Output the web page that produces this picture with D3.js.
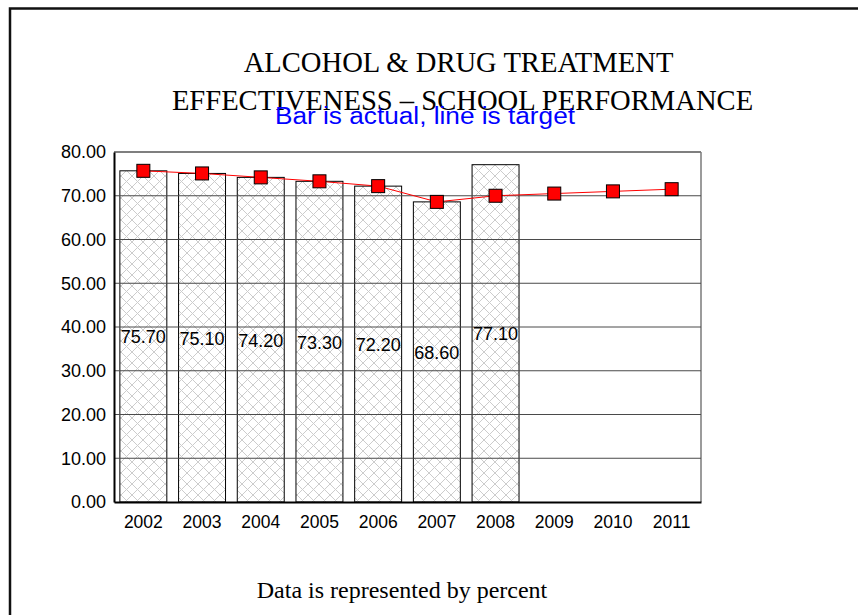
<!DOCTYPE html>
<html>
<head>
<meta charset="utf-8">
<script src="https://cdn.jsdelivr.net/npm/d3@7"></script>
<style>
  html, body { margin: 0; padding: 0; background: #fff; }
  svg { display: block; }
</style>
</head>
<body>
<svg id="chart" width="858" height="615"></svg>
<script>
// School performance: actual rate (bars) against target (line), by year
const years = ["2002", "2003", "2004", "2005", "2006", "2007", "2008", "2009", "2010", "2011"];
const actual = [75.70, 75.10, 74.20, 73.30, 72.20, 68.60, 77.10];
const target = [75.70, 75.10, 74.20, 73.30, 72.20, 68.60, 70.00, 70.50, 71.00, 71.50];
const yTicks = [0, 10, 20, 30, 40, 50, 60, 70, 80];

const svg = d3.select("#chart");
const sans = "'Liberation Sans', Arial, sans-serif";
const serif = "'Liberation Serif', 'Times New Roman', serif";

// hatched fill for the bars
const defs = svg.append("defs");
const pat = defs.append("pattern")
  .attr("id", "xhatch")
  .attr("patternUnits", "userSpaceOnUse")
  .attr("width", 11).attr("height", 11);
pat.append("rect").attr("width", 11).attr("height", 11).attr("fill", "#fff");
pat.append("path").attr("d", "M0,0 L11,11 M11,0 L0,11")
  .attr("stroke", "#cccccc").attr("stroke-width", 1);

// slide frame
svg.append("path")
  .attr("d", "M10,615 L10,8.5 L858,8.5")
  .attr("fill", "none").attr("stroke", "#111").attr("stroke-width", 2.5);

// titles
svg.append("text").attr("x", 458.5).attr("y", 72)
  .attr("text-anchor", "middle")
  .attr("font-family", serif)
  .attr("font-size", 28.6).attr("fill", "#000")
  .text("ALCOHOL & DRUG TREATMENT");
svg.append("text").attr("x", 462.5).attr("y", 110)
  .attr("text-anchor", "middle")
  .attr("font-family", serif)
  .attr("font-size", 28.6).attr("fill", "#000")
  .text("EFFECTIVENESS – SCHOOL PERFORMANCE");
svg.append("text").attr("x", 425).attr("y", 124)
  .attr("text-anchor", "middle")
  .attr("font-family", sans)
  .attr("font-size", 23.5).attr("fill", "#0000ff")
  .attr("textLength", 300).attr("lengthAdjust", "spacingAndGlyphs")
  .text("Bar is actual, line is target");
svg.append("text").attr("x", 402).attr("y", 598)
  .attr("text-anchor", "middle")
  .attr("font-family", serif)
  .attr("font-size", 24).attr("fill", "#000")
  .text("Data is represented by percent");

// plot area
const plotL = 114, plotR = 701, plotT = 152, plotB = 502;
const x = d3.scaleBand().domain(years).range([plotL, plotR]).paddingInner(0.2).paddingOuter(0.1);
const xc = d3.scaleBand().domain(years).range([plotL, plotR]);
const y = d3.scaleLinear().domain([0, 80]).range([plotB, plotT]);

// plot frame (top and right)
svg.append("path")
  .attr("d", `M${plotL},${plotT} L${plotR},${plotT}`)
  .attr("stroke", "#000").attr("stroke-width", 1.2).attr("fill", "none");
svg.append("line")
  .attr("x1", plotR).attr("x2", plotR).attr("y1", plotT).attr("y2", plotB)
  .attr("stroke", "#7a7a7a").attr("stroke-width", 1.5);

// bars
svg.append("g").selectAll("rect")
  .data(actual)
  .join("rect")
  .attr("x", (d, i) => x(years[i]))
  .attr("y", d => y(d))
  .attr("width", x.bandwidth())
  .attr("height", d => y(0) - y(d))
  .attr("fill", "url(#xhatch)")
  .attr("stroke", "#000").attr("stroke-width", 1);

// gridlines over bars
svg.append("g").selectAll("line")
  .data(yTicks.filter(t => t > 0 && t < 80))
  .join("line")
  .attr("x1", plotL).attr("x2", plotR)
  .attr("y1", d => y(d)).attr("y2", d => y(d))
  .attr("stroke", "#4a4a4a").attr("stroke-width", 1);

// value labels at bar middles
svg.append("g").selectAll("text")
  .data(actual)
  .join("text")
  .attr("x", (d, i) => x(years[i]) + x.bandwidth() / 2)
  .attr("y", d => (y(d) + y(0)) / 2 + 7)
  .attr("text-anchor", "middle")
  .attr("font-family", sans)
  .attr("font-size", 18).attr("fill", "#000")
  .text(d => d.toFixed(2));

// axes
const yAxis = d3.axisLeft(y).tickValues(yTicks).tickSize(0).tickPadding(8).tickFormat(d => d.toFixed(2));
const gy = svg.append("g").attr("transform", `translate(${plotL},0)`).call(yAxis);
gy.select(".domain").attr("stroke", "#000").attr("stroke-width", 2);
gy.selectAll("text")
  .attr("font-family", sans)
  .attr("font-size", 18).attr("fill", "#000");

const xAxis = d3.axisBottom(xc).tickSize(0).tickPadding(14);
const gx = svg.append("g").attr("transform", `translate(0,${plotB})`).call(xAxis);
gx.select(".domain").attr("stroke", "#000").attr("stroke-width", 2);
gx.selectAll("text")
  .attr("font-family", sans)
  .attr("font-size", 17.5).attr("fill", "#000");

// target line with square markers
const line = d3.line()
  .x((d, i) => xc(years[i]) + xc.bandwidth() / 2)
  .y(d => y(d));
svg.append("path")
  .datum(target)
  .attr("d", line)
  .attr("fill", "none").attr("stroke", "#ff0000").attr("stroke-width", 1);
const ms = 13;
svg.append("g").selectAll("rect")
  .data(target)
  .join("rect")
  .attr("x", (d, i) => xc(years[i]) + xc.bandwidth() / 2 - ms / 2)
  .attr("y", d => y(d) - ms / 2)
  .attr("width", ms).attr("height", ms)
  .attr("fill", "#ff0000").attr("stroke", "#000").attr("stroke-width", 1);
</script>
</body>
</html>
